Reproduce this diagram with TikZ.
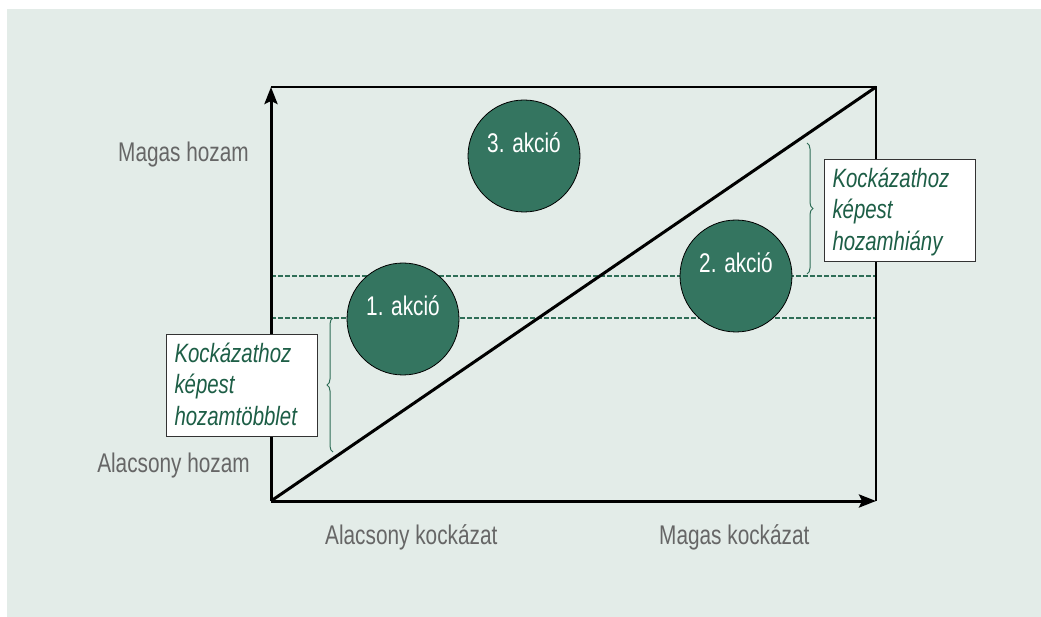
\documentclass[tikz,border=0pt]{standalone}
\usepackage{fontspec}
\setmainfont{Liberation Sans}[FakeStretch=0.77]
\usetikzlibrary{arrows.meta,decorations.pathreplacing}

\definecolor{panelbg}{HTML}{E3ECE8}
\definecolor{dotfill}{HTML}{347560}
\definecolor{notegreen}{HTML}{1D5E46}
\definecolor{guidegreen}{HTML}{2F6E57}
\definecolor{labelgray}{HTML}{666666}

\newcommand{\notestrut}{\rule[-7pt]{0pt}{31pt}}

\tikzset{
  axis/.style={line width=3pt, -{Stealth[length=17pt,width=13pt,inset=3pt]}},
  frameline/.style={line width=1.6pt},
  guide/.style={draw=guidegreen, line width=1.2pt, dash pattern=on 4.5pt off 2.5pt},
  bracket/.style={draw=guidegreen, line width=1pt, decorate, decoration={brace, amplitude=6pt}},
  action/.style={circle, minimum size=112pt, inner sep=0pt, fill=dotfill, draw=black, line width=0.8pt,
    text=white, font=\fontsize{27}{32}\selectfont, text height=19pt, text depth=25pt},
  axislabel/.style={text=labelgray, font=\fontsize{27}{32}\selectfont, inner sep=0pt},
  note/.style={draw=black!80, line width=1pt, fill=white, anchor=north west, align=left,
    text width=135pt, inner xsep=8pt, inner ysep=4pt, text=notegreen,
    font=\fontsize{26.5}{31.5}\selectfont\itshape}
}

\begin{document}
\begin{tikzpicture}[x=1pt, y=-1pt]
  \useasboundingbox (0,0) rectangle (1041,617);
  \fill[panelbg] (7,9) rectangle (1041,617);

  % corners of the chart
  \coordinate (O)  at (271,501);
  \coordinate (YT) at (271,87);
  \coordinate (XR) at (876,501);
  \coordinate (TR) at (876,87);

  % horizontal guides
  \coordinate (g1l) at (271,276);
  \coordinate (g1r) at (876,276);
  \coordinate (g2l) at (271,318);
  \coordinate (g2r) at (876,318);
  \draw[guide] (g1l) -- (g1r);
  \draw[guide] (g2l) -- (g2r);

  % frame, axes and the risk/return line
  \draw[frameline] (YT) -- (TR) -- (XR);
  \draw[axis] (O) -- (YT);
  \draw[axis] (O) -- (XR);
  \draw[line width=3pt] (O) -- (TR);

  % actions
  \node[action] (a3) at (524,156) {3. akció};
  \node[action] (a1) at (403,319) {1. akció};
  \node[action] (a2) at (736,276) {2. akció};

  % braces
  \coordinate (bl1) at (333,452);
  \coordinate (bl2) at (333,318);
  \coordinate (br1) at (807,143);
  \coordinate (br2) at (807,274);
  \draw[bracket] (bl1) -- (bl2);
  \draw[bracket] (br1) -- (br2);

  % notes
  \node[note] (surplus) at (166,334) {\notestrut Kockázathoz\\\notestrut képest\\\notestrut hozamtöbblet};
  \node[note] (deficit) at (824,159) {\notestrut Kockázathoz\\\notestrut képest\\\notestrut hozamhiány};

  % axis labels
  \node[axislabel, anchor=base east] (yhigh) at (249,162) {Magas hozam};
  \node[axislabel, anchor=base east] (ylow)  at (250,472) {Alacsony hozam};
  \node[axislabel, anchor=base west] (xlow)  at (325,544) {Alacsony kockázat};
  \node[axislabel, anchor=base west] (xhigh) at (659,544) {Magas kockázat};
\end{tikzpicture}
\end{document}
